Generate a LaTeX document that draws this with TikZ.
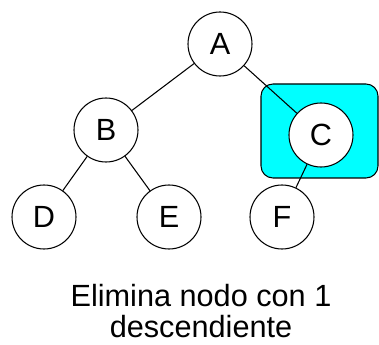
\documentclass[tikz,border=0pt]{standalone}
\usepackage{fontspec}
\setmainfont{Liberation Sans}
\definecolor{boxcyan}{RGB}{0,255,255}
\begin{document}
\begin{tikzpicture}[x=0.75pt,y=-0.75pt,
  treenode/.style={circle,draw=black,fill=white,line width=0.8pt,minimum size=48pt,inner sep=0pt,font=\fontsize{23}{26}\selectfont},
  edge/.style={draw=black,line width=0.8pt},
  hilite/.style={draw=black,fill=boxcyan,line width=0.8pt,rounded corners=9pt}]
\useasboundingbox (0,0) rectangle (379,345);
\draw[hilite] (261,84) rectangle (378,178);
\node[treenode] (A) at (220,44) {A};
\node[treenode] (B) at (106,130) {B};
\node[treenode] (C) at (321,135) {C};
\node[treenode] (D) at (44,217) {D};
\node[treenode] (E) at (169,217) {E};
\node[treenode] (F) at (282,217) {F};
\draw[edge] (A) -- (B);
\draw[edge] (A) -- (C);
\draw[edge] (B) -- (D);
\draw[edge] (B) -- (E);
\draw[edge] (C) -- (F);
\node[align=center,font=\fontsize{23}{23.5}\selectfont] (T) at (201,311) {Elimina nodo con 1\\descendiente};
\end{tikzpicture}
\end{document}
